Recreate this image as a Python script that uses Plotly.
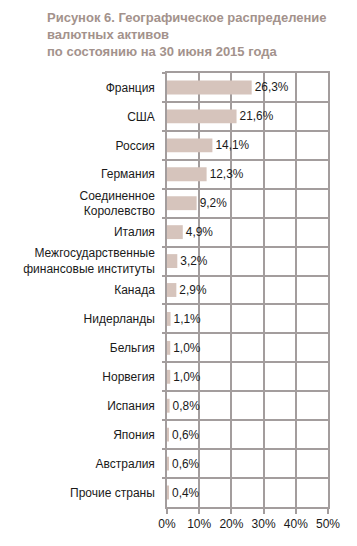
import plotly.graph_objects as go

categories = ["Франция", "США", "Россия", "Германия", "Соединенное<br>Королевство",
              "Италия", "Межгосударственные<br>финансовые институты", "Канада",
              "Нидерланды", "Бельгия", "Норвегия", "Испания", "Япония", "Австралия",
              "Прочие страны"]
values = [26.3, 21.6, 14.1, 12.3, 9.2, 4.9, 3.2, 2.9, 1.1, 1.0, 1.0, 0.8, 0.6, 0.6, 0.4]
x_ticks = [0, 10, 20, 30, 40, 50]
x_ticklabels = ["0%", "10%", "20%", "30%", "40%", "50%"]
title_text = ("Рисунок 6. Географическое распределение<br>валютных активов<br>"
              "по состоянию на 30 июня 2015 года")

labels = [f"{v:.1f}%".replace(".", ",") for v in values]

GRID = "#a39d9d"
OFF = 8  # default page body margin

fig = go.Figure(go.Bar(
    x=values, y=categories, orientation="h",
    marker=dict(color="#d6c4bc", line=dict(width=0)),
    text=labels, textposition="outside", cliponaxis=False,
    textfont=dict(size=12, color="#1a1a1a"),
))

fig.update_layout(
    width=357 - OFF, height=546 - OFF,
    margin=dict(l=167 - OFF, r=29, t=73 - OFF, b=39, autoexpand=False),
    paper_bgcolor="white", plot_bgcolor="white",
    font=dict(family="Liberation Sans, Arial, sans-serif", size=12, color="#1a1a1a"),
    bargap=0.52,
    showlegend=False,
    title=dict(text=title_text, x=(47 - OFF) / (357 - OFF), xanchor="left", xref="container",
               y=1 - 14 / (546 - OFF), yanchor="top", yref="container",
               pad=dict(t=0, b=0, l=0, r=0),
               font=dict(size=13, color="#a3928c", family="Liberation Sans, Arial, sans-serif",
                         weight="bold")),
)
fig.update_xaxes(range=[0, 50], tickvals=x_ticks, ticktext=x_ticklabels,
                 showgrid=True, gridcolor=GRID, gridwidth=1.5,
                 ticks="outside", ticklen=5, tickcolor=GRID, tickwidth=1.5,
                 showline=True, linecolor=GRID, linewidth=1.5, mirror=True,
                 zeroline=False, tickfont=dict(size=12), automargin=False)
fig.update_yaxes(autorange="reversed", tickson="boundaries",
                 showgrid=True, gridcolor=GRID, gridwidth=1.5,
                 ticks="outside", ticklen=3, tickcolor=GRID, tickwidth=1.5,
                 showline=True, linecolor=GRID, linewidth=1.5, mirror=True,
                 ticklabelstandoff=8, tickfont=dict(size=12), automargin=False)

fig.write_html("out.html")
